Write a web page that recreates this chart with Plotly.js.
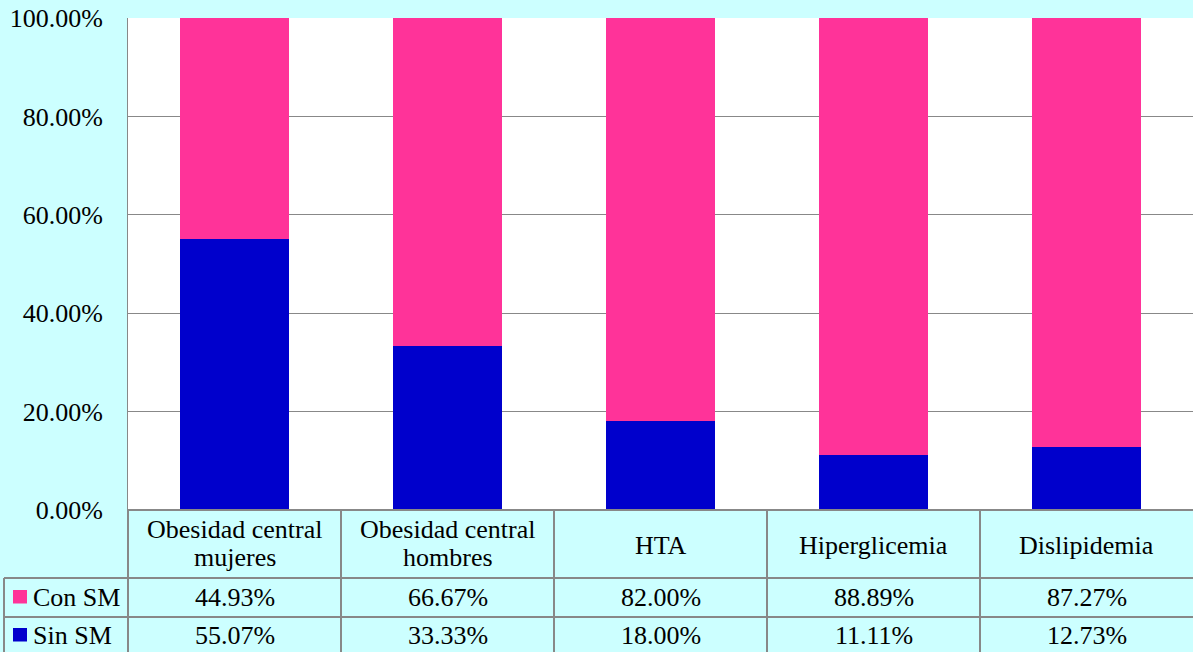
<!DOCTYPE html>
<html>
<head>
<meta charset="utf-8">
<script src="https://cdn.plot.ly/plotly-3.0.1.min.js"></script>
<style>
  html, body { margin: 0; padding: 0; background: #CCFFFF; }
  #chart { width: 1193px; height: 652px; }
</style>
</head>
<body>
<div id="chart"></div>
<script>
// Categories (table header) and the two stacked series, in percent
const categories = ["Obesidad central mujeres", "Obesidad central hombres", "HTA", "Hiperglicemia", "Dislipidemia"];
const headerLines = [["Obesidad central", "mujeres"], ["Obesidad central", "hombres"], ["HTA"], ["Hiperglicemia"], ["Dislipidemia"]];
const conSM = [44.93, 66.67, 82.00, 88.89, 87.27];
const sinSM = [55.07, 33.33, 18.00, 11.11, 12.73];
const seriesNames = ["Con SM", "Sin SM"];
const yTicks = [0, 20, 40, 60, 80, 100];
const yTickLabels = ["0.00%", "20.00%", "40.00%", "60.00%", "80.00%", "100.00%"];

const PINK = "#FF3399";
const BLUE = "#0000CC";
const BG = "#CCFFFF";
const GRID = "#888888";
const FONT = "Liberation Serif";
const FS = 26;

// Page geometry (pixels)
const W = 1193, H = 652;
const M = { l: 128, r: 0, t: 18, b: 142 };
const plotW = W - M.l - M.r;
const plotH = H - M.t - M.b;
const plotBottom = M.t + plotH;

// pixel -> paper coordinate helpers for the data table drawn below the plot
const px = x => (x - M.l) / plotW;
const py = y => (plotBottom - y) / plotH;

const colW = plotW / categories.length;
const rowConTop = 578, rowSinTop = 617;
const headerMid = 545, headerLine1 = 529, headerLine2 = 557;
const rowConMid = 597, rowSinMid = 635;
const legendLeft = 4;

const traces = [
  { type: "bar", name: seriesNames[1], x: categories, y: sinSM,
    marker: { color: BLUE }, hoverinfo: "skip" },
  { type: "bar", name: seriesNames[0], x: categories, y: conSM,
    marker: { color: PINK }, hoverinfo: "skip" }
];

const shapes = [];
const annotations = [];
const lineStyle = { color: GRID, width: 2 };

function hline(x0, x1, y) {
  shapes.push({ type: "line", xref: "paper", yref: "paper",
    x0: px(x0), x1: px(x1), y0: py(y), y1: py(y), line: lineStyle });
}
function vline(x, y0, y1) {
  shapes.push({ type: "line", xref: "paper", yref: "paper",
    x0: px(x), x1: px(x), y0: py(y0), y1: py(y1), line: lineStyle });
}

// table grid
hline(M.l, W, plotBottom);
hline(legendLeft, W, rowConTop);
hline(legendLeft, W, rowSinTop);
vline(legendLeft, rowConTop, H);
for (let i = 0; i < categories.length; i++) {
  vline(M.l + i * colW, plotBottom, H);
}

const cellFont = { family: FONT, size: FS, color: "#000" };
function cellText(text, xCenter, yCenter, anchor) {
  annotations.push({ xref: "paper", yref: "paper", x: px(xCenter), y: py(yCenter),
    xanchor: anchor || "center", yanchor: "middle", showarrow: false, text: text, font: cellFont });
}

categories.forEach((c, i) => {
  const cx = M.l + (i + 0.5) * colW;
  const lines = headerLines[i];
  if (lines.length === 1) {
    cellText(lines[0], cx, headerMid);
  } else {
    cellText(lines[0], cx, headerLine1);
    cellText(lines[1], cx, headerLine2);
  }
  cellText(conSM[i].toFixed(2) + "%", cx, rowConMid);
  cellText(sinSM[i].toFixed(2) + "%", cx, rowSinMid);
});

// legend keys inside the table
[[seriesNames[0], PINK, rowConMid], [seriesNames[1], BLUE, rowSinMid]].forEach(([name, color, yc]) => {
  shapes.push({ type: "rect", xref: "paper", yref: "paper",
    x0: px(13), x1: px(27), y0: py(yc - 7), y1: py(yc + 6.5),
    fillcolor: color, line: { width: 0 } });
  cellText(name, 31, yc, "left");
});

const layout = {
  width: W, height: H,
  margin: M,
  paper_bgcolor: BG,
  plot_bgcolor: "#FFFFFF",
  barmode: "stack",
  bargap: 0.488,
  showlegend: false,
  xaxis: { showticklabels: false, showgrid: false, zeroline: false, showline: false,
    fixedrange: true },
  yaxis: { range: [0, 100], tickmode: "array", tickvals: yTicks, ticktext: yTickLabels,
    showgrid: true, gridcolor: GRID, gridwidth: 1, zeroline: false,
    showline: true, linecolor: GRID, linewidth: 1, ticks: "",
    ticklabelstandoff: 19, tickfont: { family: FONT, size: FS, color: "#000" },
    fixedrange: true },
  shapes: shapes,
  annotations: annotations
};

Plotly.newPlot("chart", traces, layout, { displayModeBar: false, staticPlot: true });
</script>
</body>
</html>
